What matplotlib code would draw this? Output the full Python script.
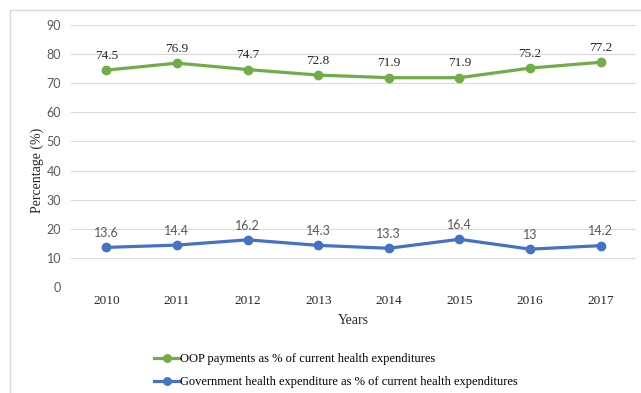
import matplotlib
matplotlib.use("Agg")
import matplotlib.pyplot as plt
from matplotlib.patches import Rectangle

years = ["2010", "2011", "2012", "2013", "2014", "2015", "2016", "2017"]
oop_share = [74.5, 76.9, 74.7, 72.8, 71.9, 71.9, 75.2, 77.2]
gov_share = [13.6, 14.4, 16.2, 14.3, 13.3, 16.4, 13, 14.2]
oop_text = ["74.5", "76.9", "74.7", "72.8", "71.9", "71.9", "75.2", "77.2"]
gov_text = ["13.6", "14.4", "16.2", "14.3", "13.3", "16.4", "13", "14.2"]
y_ticks = [0, 10, 20, 30, 40, 50, 60, 70, 80, 90]

GREEN = "#70AD47"
BLUE = "#4472C4"
GRAY = "#595959"
SERIF = "Liberation Serif"
SANS = "Lato"

fig = plt.figure(figsize=(6.41, 3.93), dpi=100)

# light outer frame of the chart area
fig.patches.append(Rectangle((10 / 641, -0.1), 1.2, 1.1 - 10 / 393,
                             transform=fig.transFigure, fill=False,
                             edgecolor="#d9d9d9", linewidth=1.0))

ax = fig.add_axes([71 / 641, 106 / 393, 565 / 641, 262 / 393])
x = list(range(len(years)))

l1, = ax.plot(x, oop_share, color=GREEN, linewidth=2.3, marker="o",
              markersize=6, label="OOP payments as % of current health expenditures")
l2, = ax.plot(x, gov_share, color=BLUE, linewidth=2.3, marker="o",
              markersize=6, label="Government health expenditure as % of current health expenditures")

for xi, v, t in zip(x, oop_share, oop_text):
    ax.annotate(t, (xi, v), xytext=(0, 6), textcoords="offset points",
                ha="center", va="bottom", fontsize=9.5, family=SERIF, color="#262626")
for xi, v, t in zip(x, gov_share, gov_text):
    ax.annotate(t, (xi, v), xytext=(0, 6), textcoords="offset points",
                ha="center", va="bottom", fontsize=9, family=SANS, color=GRAY)

ax.set_xlim(-0.5, len(years) - 0.5)
ax.set_ylim(0, 90)
ax.set_yticks(y_ticks)
ax.set_xticks(x)
ax.set_xticklabels(years, family=SERIF, fontsize=9.5, color="#262626")
for lab in ax.get_yticklabels():
    lab.set_family(SANS)
    lab.set_fontsize(9)
    lab.set_color(GRAY)
ax.tick_params(axis="y", length=0, pad=7)
ax.tick_params(axis="x", length=0, pad=6)
ax.grid(axis="y", color="#d9d9d9", linewidth=0.8)
ax.set_axisbelow(True)
for s in ax.spines.values():
    s.set_visible(False)

ax.set_ylabel("Percentage (%)", family=SERIF, fontsize=10, color="#262626",
              va="center")
ax.yaxis.set_label_coords(-0.060, 0.447)
ax.set_xlabel("Years", family=SERIF, fontsize=10, color="#262626", labelpad=5)

fig.legend(handles=[l1, l2], loc="upper left", bbox_to_anchor=(148 / 641, 1 - 347 / 393),
           frameon=False, prop={"family": SERIF, "size": 9},
           handlelength=2.0, handletextpad=0.1, labelspacing=0.85, borderpad=0,
           markerscale=0.9)

fig.savefig("out.png", dpi=100)
